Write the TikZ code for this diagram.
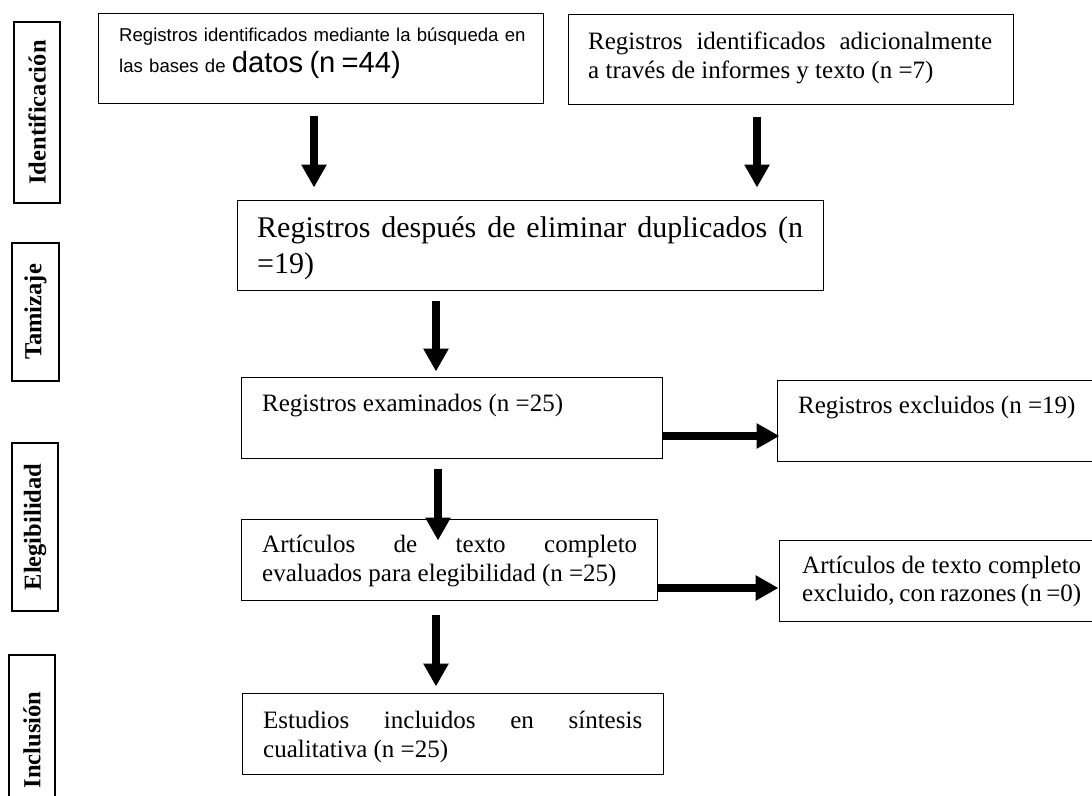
\documentclass[tikz,border=0pt]{standalone}
\usepackage{fontspec}
\setmainfont{Liberation Serif}
\newfontfamily\arialfont{Liberation Sans}
\usetikzlibrary{arrows.meta,calc}
\hyphenpenalty=10000
\tolerance=10000

\tikzstyle{box}=[draw=black,line width=1pt,inner sep=0pt]
\tikzstyle{side}=[draw=black,line width=1.2pt,inner sep=0pt,rotate=90,font=\fontsize{24.5}{29}\selectfont\bfseries]
\tikzstyle{txt}=[anchor=base west,inner sep=0pt,align=justify,font=\fontsize{25}{29}\selectfont]
\tikzstyle{arr}=[line width=8.3pt,-{Triangle[width=24pt,length=23pt]}]

\begin{document}
\begin{tikzpicture}[x=1pt,y=-1pt]
        \useasboundingbox (0,0) rectangle (1092,795);
        \clip (0,0) rectangle (1092,795);
        %% The stage labels
        \node[side,minimum width=181,minimum height=46] (s1) at (37,112.5) {Identificación};
        \node[side,minimum width=138,minimum height=47] (s2) at (35.5,312) {Tamizaje};
        \node[side,minimum width=168,minimum height=46] (s3) at (35,527) {Elegibilidad};
        \node[side,minimum width=170,minimum height=46] (s4) at (32,740) {Inclusión};

        %% The boxes
        \node[box,minimum width=445,minimum height=90] (b1) at (320.5,58) {};
        \node[box,minimum width=445,minimum height=90] (b2) at (790.5,59) {};
        \node[box,minimum width=586,minimum height=90] (b3) at (530,245) {};
        \node[box,minimum width=421,minimum height=81] (b4) at (451.5,417.5) {};
        \node[box,minimum width=416,minimum height=81] (b5) at (449,559.5) {};
        \node[box,minimum width=421,minimum height=81] (b6) at (452.5,733.5) {};
        \node[box,minimum width=323,minimum height=81] (b7) at (938.5,420.5) {};
        \node[box,minimum width=321,minimum height=81] (b8) at (939.5,580.5) {};

        %%% Texts of the boxes
        \node[txt,text width=440,align=left,font=\arialfont\fontsize{18.6}{31}\selectfont] (t1) at (119,41.7)
            {Registros identificados mediante la búsqueda en\\las bases de {\fontsize{29.2}{31}\selectfont datos (n =44)}};
        \node[txt,text width=404] (t2) at (588,49) {Registros identificados adicionalmente\linebreak a través de informes y texto (n =7)};
        \node[txt,text width=546,font=\fontsize{30}{36}\selectfont] (t3) at (257,237) {Registros después de eliminar duplicados (n\linebreak =19)};
        \node[txt,text width=380] (t4) at (262,411) {Registros examinados (n =25)};
        \node[txt,text width=375] (t5) at (262,552) {Artículos de texto completo\linebreak evaluados para elegibilidad (n =25)};
        \node[txt,text width=379] (t6) at (263,728) {Estudios incluidos en síntesis\linebreak cualitativa (n =25)};
        \node[txt,text width=280] (t7) at (798,413) {Registros excluidos (n =19)};
        \node[txt,text width=279,font=\fontsize{25}{28}\selectfont] (t8) at (802,573) {Artículos de texto completo\linebreak excluido, con razones (n =0)};

        %% Downward arrows
        \foreach \from/\to/\dx/\s/\e in {b1/b3/-6.5/12pt/12pt, b2/b3/-33.5/12pt/12pt, b3/b4/-94/10pt/5pt, b4/b5/-13.5/10pt/-22pt, b5/b6/-13/14pt/6pt}
        {
            \coordinate (top) at ($(\from.south)+(\dx,0)$);
            \draw[arr,shorten <=\s,shorten >=\e] (top) -- (top |- \to.north);
        }

        %% Arrows to the excluded records
        \coordinate (ex1) at ($(b4.east)+(0,18.5)$);
        \draw[arr,shorten >=-3pt] (ex1) -- (ex1 -| b7.west);
        \coordinate (ex2) at ($(b5.east)+(0,28.5)$);
        \draw[arr] (ex2) -- (ex2 -| b8.west);
\end{tikzpicture}
\end{document}
